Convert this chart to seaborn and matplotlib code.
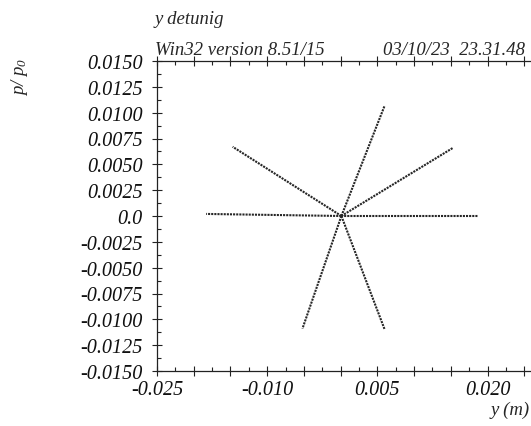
import numpy as np
import pandas as pd
import matplotlib
matplotlib.use("Agg")
import matplotlib.pyplot as plt
import seaborn as sns
from matplotlib.ticker import MultipleLocator, FixedLocator, FixedFormatter

# ---- data (ray end points from common centre) ----
center_x = 0.0001
center_y = 0.0000
ray_names = ["left", "right", "upper_left", "upper_right", "up", "down_left", "down_right"]
ray_end_x = [-0.0183, 0.0187, -0.0147, 0.0153, 0.0060, -0.0052, 0.0060]
ray_end_y = [0.0002, 0.0000, 0.0067, 0.0066, 0.0107, -0.0109, -0.0110]

x_ticks = [-0.025, -0.020, -0.015, -0.010, -0.005, 0.0, 0.005, 0.010, 0.015, 0.020, 0.025]
x_tick_labels = ["-0.025", "", "", "-0.010", "", "", "0.005", "", "", "0.020", ""]
y_ticks = [0.0150, 0.0125, 0.0100, 0.0075, 0.0050, 0.0025, 0.0, -0.0025, -0.0050,
           -0.0075, -0.0100, -0.0125, -0.0150]
y_tick_labels = ["0.0150", "0.0125", "0.0100", "0.0075", "0.0050", "0.0025", "0.0",
                 "-0.0025", "-0.0050", "-0.0075", "-0.0100", "-0.0125", "-0.0150"]

rows = []
for name, ex, ey in zip(ray_names, ray_end_x, ray_end_y):
    rows.append({"ray": name, "x": center_x, "y": center_y, "o": 0})
    rows.append({"ray": name, "x": ex, "y": ey, "o": 1})
df = pd.DataFrame(rows)

sns.set_style("ticks")
plt.rcParams["font.family"] = ["Liberation Serif", "DejaVu Serif"]
plt.rcParams["font.style"] = "italic"
plt.rcParams["mathtext.fontset"] = "custom"
plt.rcParams["mathtext.it"] = "Liberation Serif:italic"
plt.rcParams["mathtext.rm"] = "Liberation Serif:italic"

fig = plt.figure(figsize=(5.31, 4.27), dpi=100)
ax = fig.add_axes([157 / 531, 55 / 427, 382 / 531, 310 / 427])

sns.lineplot(data=df, x="x", y="y", units="ray", estimator=None, sort=False,
             color="#262626", linewidth=1.5, linestyle=(0, (1.0, 0.5)), ax=ax)

ax.set_xlim(-0.025, 0.027)
ax.set_ylim(-0.015, 0.015)
ax.xaxis.set_major_locator(FixedLocator(x_ticks))
ax.xaxis.set_major_formatter(FixedFormatter(x_tick_labels))
ax.xaxis.set_minor_locator(MultipleLocator(0.0025))
ax.yaxis.set_major_locator(FixedLocator(y_ticks))
ax.yaxis.set_major_formatter(FixedFormatter(y_tick_labels))
ax.yaxis.set_minor_locator(MultipleLocator(0.00125))

for sp in ax.spines.values():
    sp.set_color("#222222")
    sp.set_linewidth(0.9)
ax.spines["right"].set_visible(False)

ax.tick_params(axis="both", which="major", direction="inout", length=7, width=0.8,
               labelsize=14.5, colors="#222222", top=True)
ax.tick_params(axis="both", which="minor", direction="in", length=3, width=0.8,
               colors="#222222", top=True)
ax.tick_params(axis="x", which="major", pad=3)
ax.tick_params(axis="y", which="major", pad=7)
for lbl in ax.get_xticklabels() + ax.get_yticklabels():
    lbl.set_fontstyle("italic")
    lbl.set_color("#111111")
ax.set_xlabel("")
ax.set_ylabel("")

fig.text(155 / 531, 1 - 24 / 427, "y detunig", fontsize=13.5, style="italic",
         ha="left", va="baseline")
fig.text(155 / 531, 1 - 55 / 427, "Win32 version 8.51/15", fontsize=13.5, style="italic",
         ha="left", va="baseline")
fig.text(383 / 531, 1 - 55 / 427, "03/10/23  23.31.48", fontsize=13.5, style="italic",
         ha="left", va="baseline")
fig.text(530 / 531, 1 - 415 / 427, "y (m)", fontsize=13.5, style="italic",
         ha="right", va="baseline")
fig.text(20 / 531, 1 - 58 / 427, r"$p/\ p_{0}$", fontsize=13.5, rotation=90,
         ha="center", va="top")

fig.savefig("out.png", dpi=100)
